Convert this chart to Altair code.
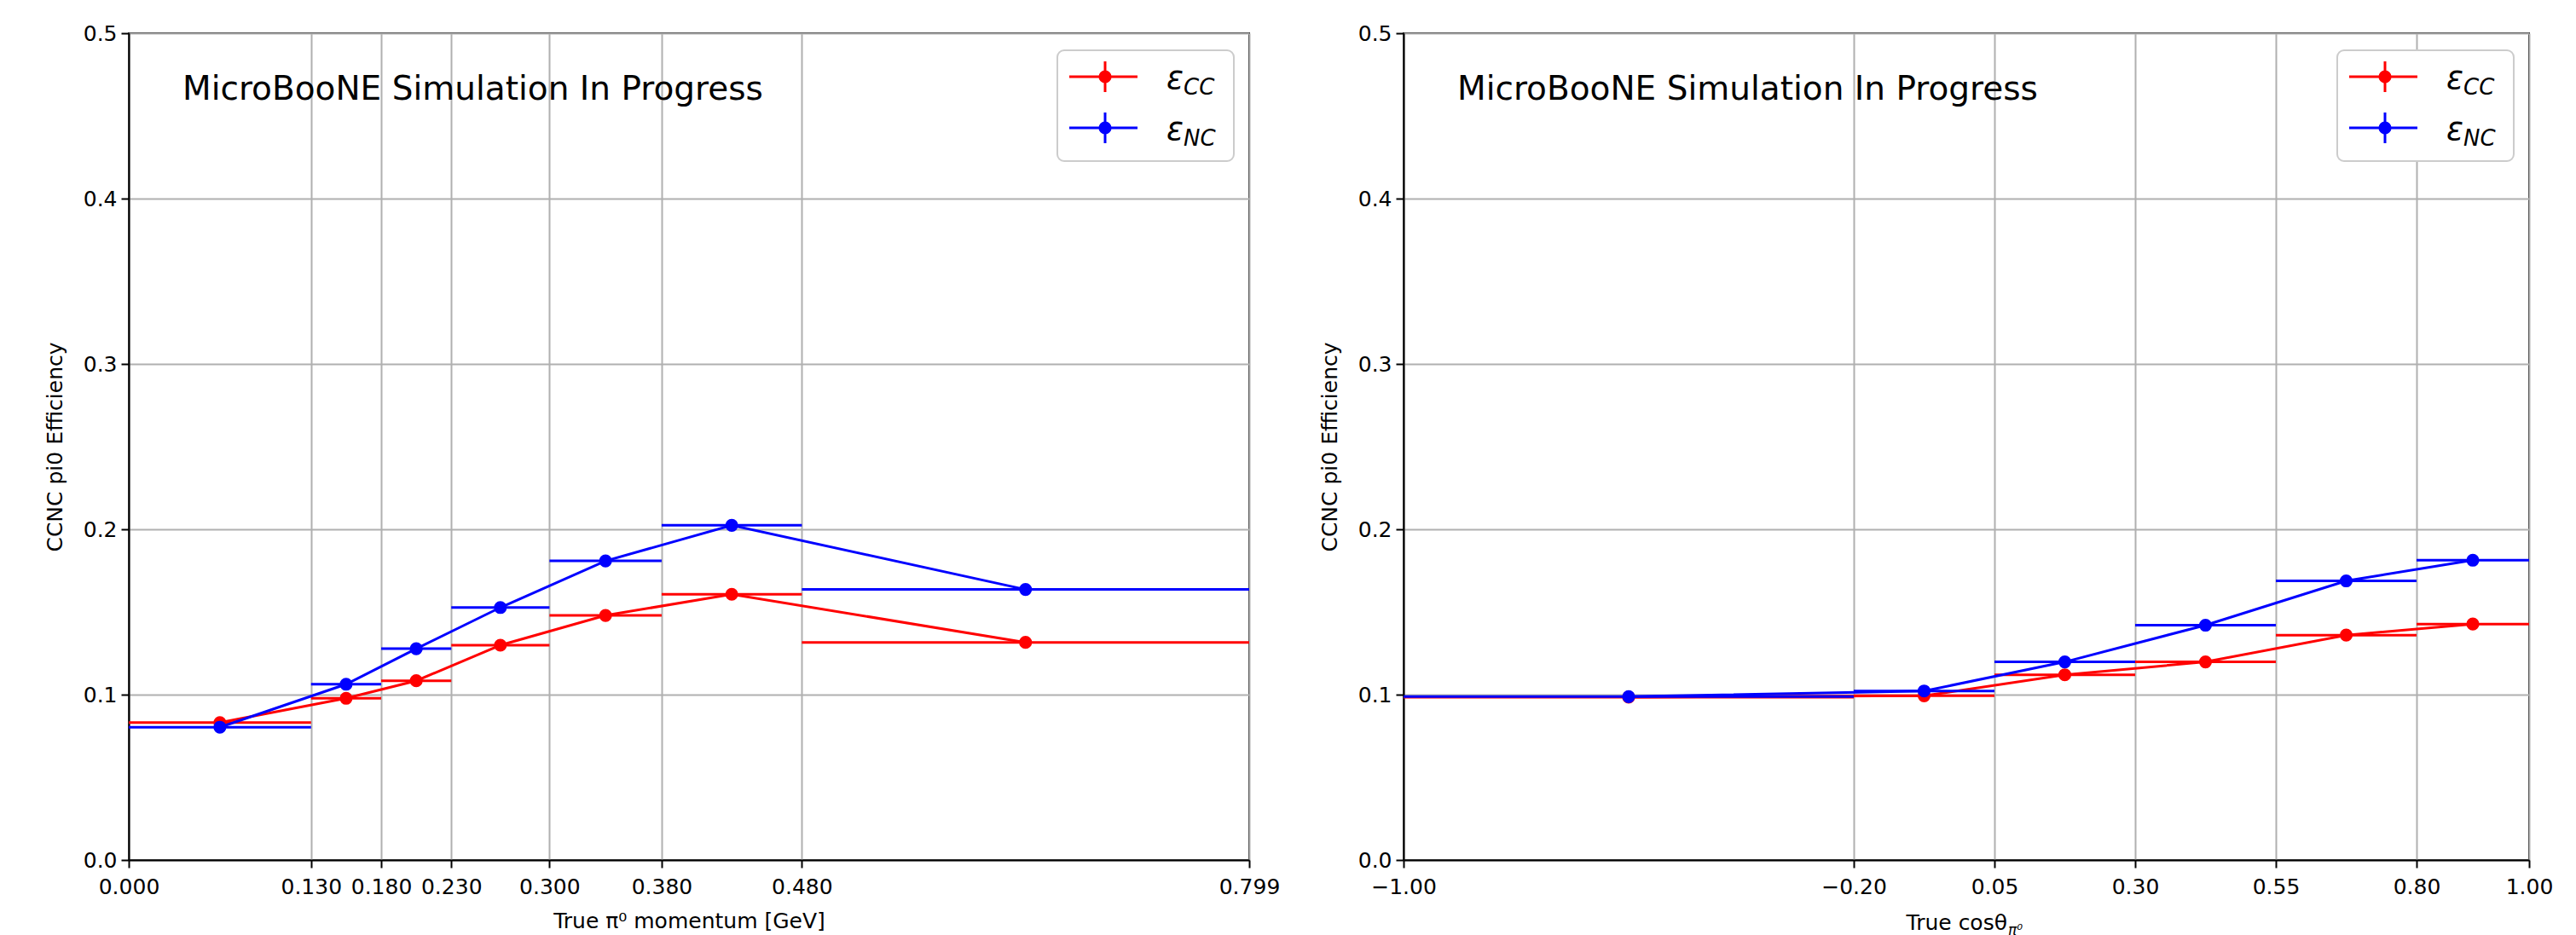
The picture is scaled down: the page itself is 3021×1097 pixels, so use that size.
import altair as alt
import pandas as pd

# ---- data ----
series = ["CC", "NC"]
colors = ["#ff0000", "#0000ff"]

mom_edges = [0.0, 0.13, 0.18, 0.23, 0.30, 0.38, 0.48, 0.799]
mom_cc = [0.0831, 0.0978, 0.1084, 0.1299, 0.1479, 0.1607, 0.1316]
mom_nc = [0.0803, 0.1063, 0.1278, 0.1527, 0.1809, 0.2024, 0.1636]

cos_edges = [-1.0, -0.2, 0.05, 0.30, 0.55, 0.80, 1.0]
cos_cc = [0.0985, 0.0993, 0.1120, 0.1198, 0.1360, 0.1427]
cos_nc = [0.0988, 0.1022, 0.1198, 0.1420, 0.1688, 0.1813]

y_ticks = [0.0, 0.1, 0.2, 0.3, 0.4, 0.5]

FONT = "DejaVu Sans"
H = 970


def make_df(edges, cc, nc):
    rows = []
    for s, vals in zip(series, [cc, nc]):
        for i, v in enumerate(vals):
            lo, hi = edges[i], edges[i + 1]
            rows.append({"series": s, "lo": lo, "hi": hi,
                         "center": (lo + hi) / 2, "eff": v})
    return pd.DataFrame(rows)


def one(v):
    return pd.DataFrame({"t": [v]})


def panel(edges, cc, nc, width, xfmt, xtitle):
    df = make_df(edges, cc, nc)
    xscale = alt.Scale(domain=[edges[0], edges[-1]], nice=False, zero=False)
    yscale = alt.Scale(domain=[0, 0.5], nice=False, zero=False)
    xaxis = alt.Axis(values=edges, format=xfmt, title=xtitle,
                     labelFlush=False, labelOverlap=False,
                     labelPadding=10, titlePadding=15)
    yaxis = alt.Axis(values=y_ticks, format=".1f", title="CCNC pi0 Efficiency",
                     labelFlush=False, labelPadding=5, titlePadding=20)
    layers = []
    for s, c in zip(series, colors):
        sub = alt.Chart(df[df.series == s])
        layers.append(sub.mark_rule(color=c, strokeWidth=3).encode(
            x=alt.X("lo:Q", scale=xscale, axis=xaxis), x2="hi:Q",
            y=alt.Y("eff:Q", scale=yscale, axis=yaxis)))
        layers.append(sub.mark_line(color=c, strokeWidth=3).encode(
            x=alt.X("center:Q", scale=xscale, axis=xaxis),
            y=alt.Y("eff:Q", scale=yscale, axis=yaxis),
            order="center:Q"))
        layers.append(sub.mark_circle(color=c, size=230, opacity=1).encode(
            x=alt.X("center:Q", scale=xscale, axis=xaxis),
            y=alt.Y("eff:Q", scale=yscale, axis=yaxis)))

    # annotation
    layers.append(alt.Chart(one("MicroBooNE Simulation In Progress")).mark_text(
        align="left", baseline="middle", fontSize=39, font=FONT, color="black"
    ).encode(text="t:N", x=alt.value(63), y=alt.value(66)))

    # legend
    bx1 = width - 18
    bx0 = bx1 - 207
    layers.append(alt.Chart(one("")).mark_rect(
        fill="white", stroke="#cccccc", strokeWidth=2, cornerRadius=8, opacity=1
    ).encode(x=alt.value(bx0), x2=alt.value(bx1), y=alt.value(20), y2=alt.value(150)))
    for k, (s, c) in enumerate(zip(series, colors)):
        ry = 51 + 60 * k
        lx0 = bx0 + 14
        layers.append(alt.Chart(one("")).mark_rule(color=c, strokeWidth=3).encode(
            x=alt.value(lx0), x2=alt.value(lx0 + 80), y=alt.value(ry)))
        layers.append(alt.Chart(one("")).mark_rule(color=c, strokeWidth=3).encode(
            x=alt.value(lx0 + 42), y=alt.value(ry - 18), y2=alt.value(ry + 18)))
        layers.append(alt.Chart(one("")).mark_circle(color=c, size=230, opacity=1).encode(
            x=alt.value(lx0 + 42), y=alt.value(ry)))
        layers.append(alt.Chart(one("ε")).mark_text(
            align="left", baseline="alphabetic", fontSize=37, font=FONT,
            fontStyle="italic", color="black"
        ).encode(text="t:N", x=alt.value(bx0 + 128), y=alt.value(ry + 14)))
        layers.append(alt.Chart(one(s)).mark_text(
            align="left", baseline="alphabetic", fontSize=26, font=FONT,
            fontStyle="italic", color="black"
        ).encode(text="t:N", x=alt.value(bx0 + 148), y=alt.value(ry + 21)))
    return layers


left_layers = panel(mom_edges, mom_cc, mom_nc, 1314, ".3f", "True π⁰ momentum [GeV]")
left = alt.layer(*left_layers).properties(width=1314, height=H)

right_layers = panel(cos_edges, cos_cc, cos_nc, 1320, ".2f", "")
right_layers.append(alt.Chart(one("True cosθ")).mark_text(
    align="right", baseline="alphabetic", fontSize=25, font=FONT, color="black"
).encode(text="t:N", x=alt.value(708), y=alt.value(H + 82)))
right_layers.append(alt.Chart(one("π⁰")).mark_text(
    align="left", baseline="alphabetic", fontSize=17, font=FONT,
    fontStyle="italic", color="black"
).encode(text="t:N", x=alt.value(709), y=alt.value(H + 88)))
right = alt.layer(*right_layers).properties(width=1320, height=H)

chart = alt.hconcat(left, right, spacing=44).properties(
    padding={"left": 51, "top": 26, "right": 5, "bottom": 0},
    background="white",
).configure_view(
    stroke="black", strokeWidth=2
).configure_axis(
    domainColor="black", domainWidth=2, tickColor="black", tickWidth=2,
    tickSize=9, grid=True, gridColor="#b0b0b0", gridWidth=2,
    labelFont=FONT, labelFontSize=25, labelColor="black",
    titleFont=FONT, titleFontSize=25, titleFontWeight="normal", titleColor="black",
)

chart.save("out.html", embed_options={"renderer": "svg", "actions": False})
